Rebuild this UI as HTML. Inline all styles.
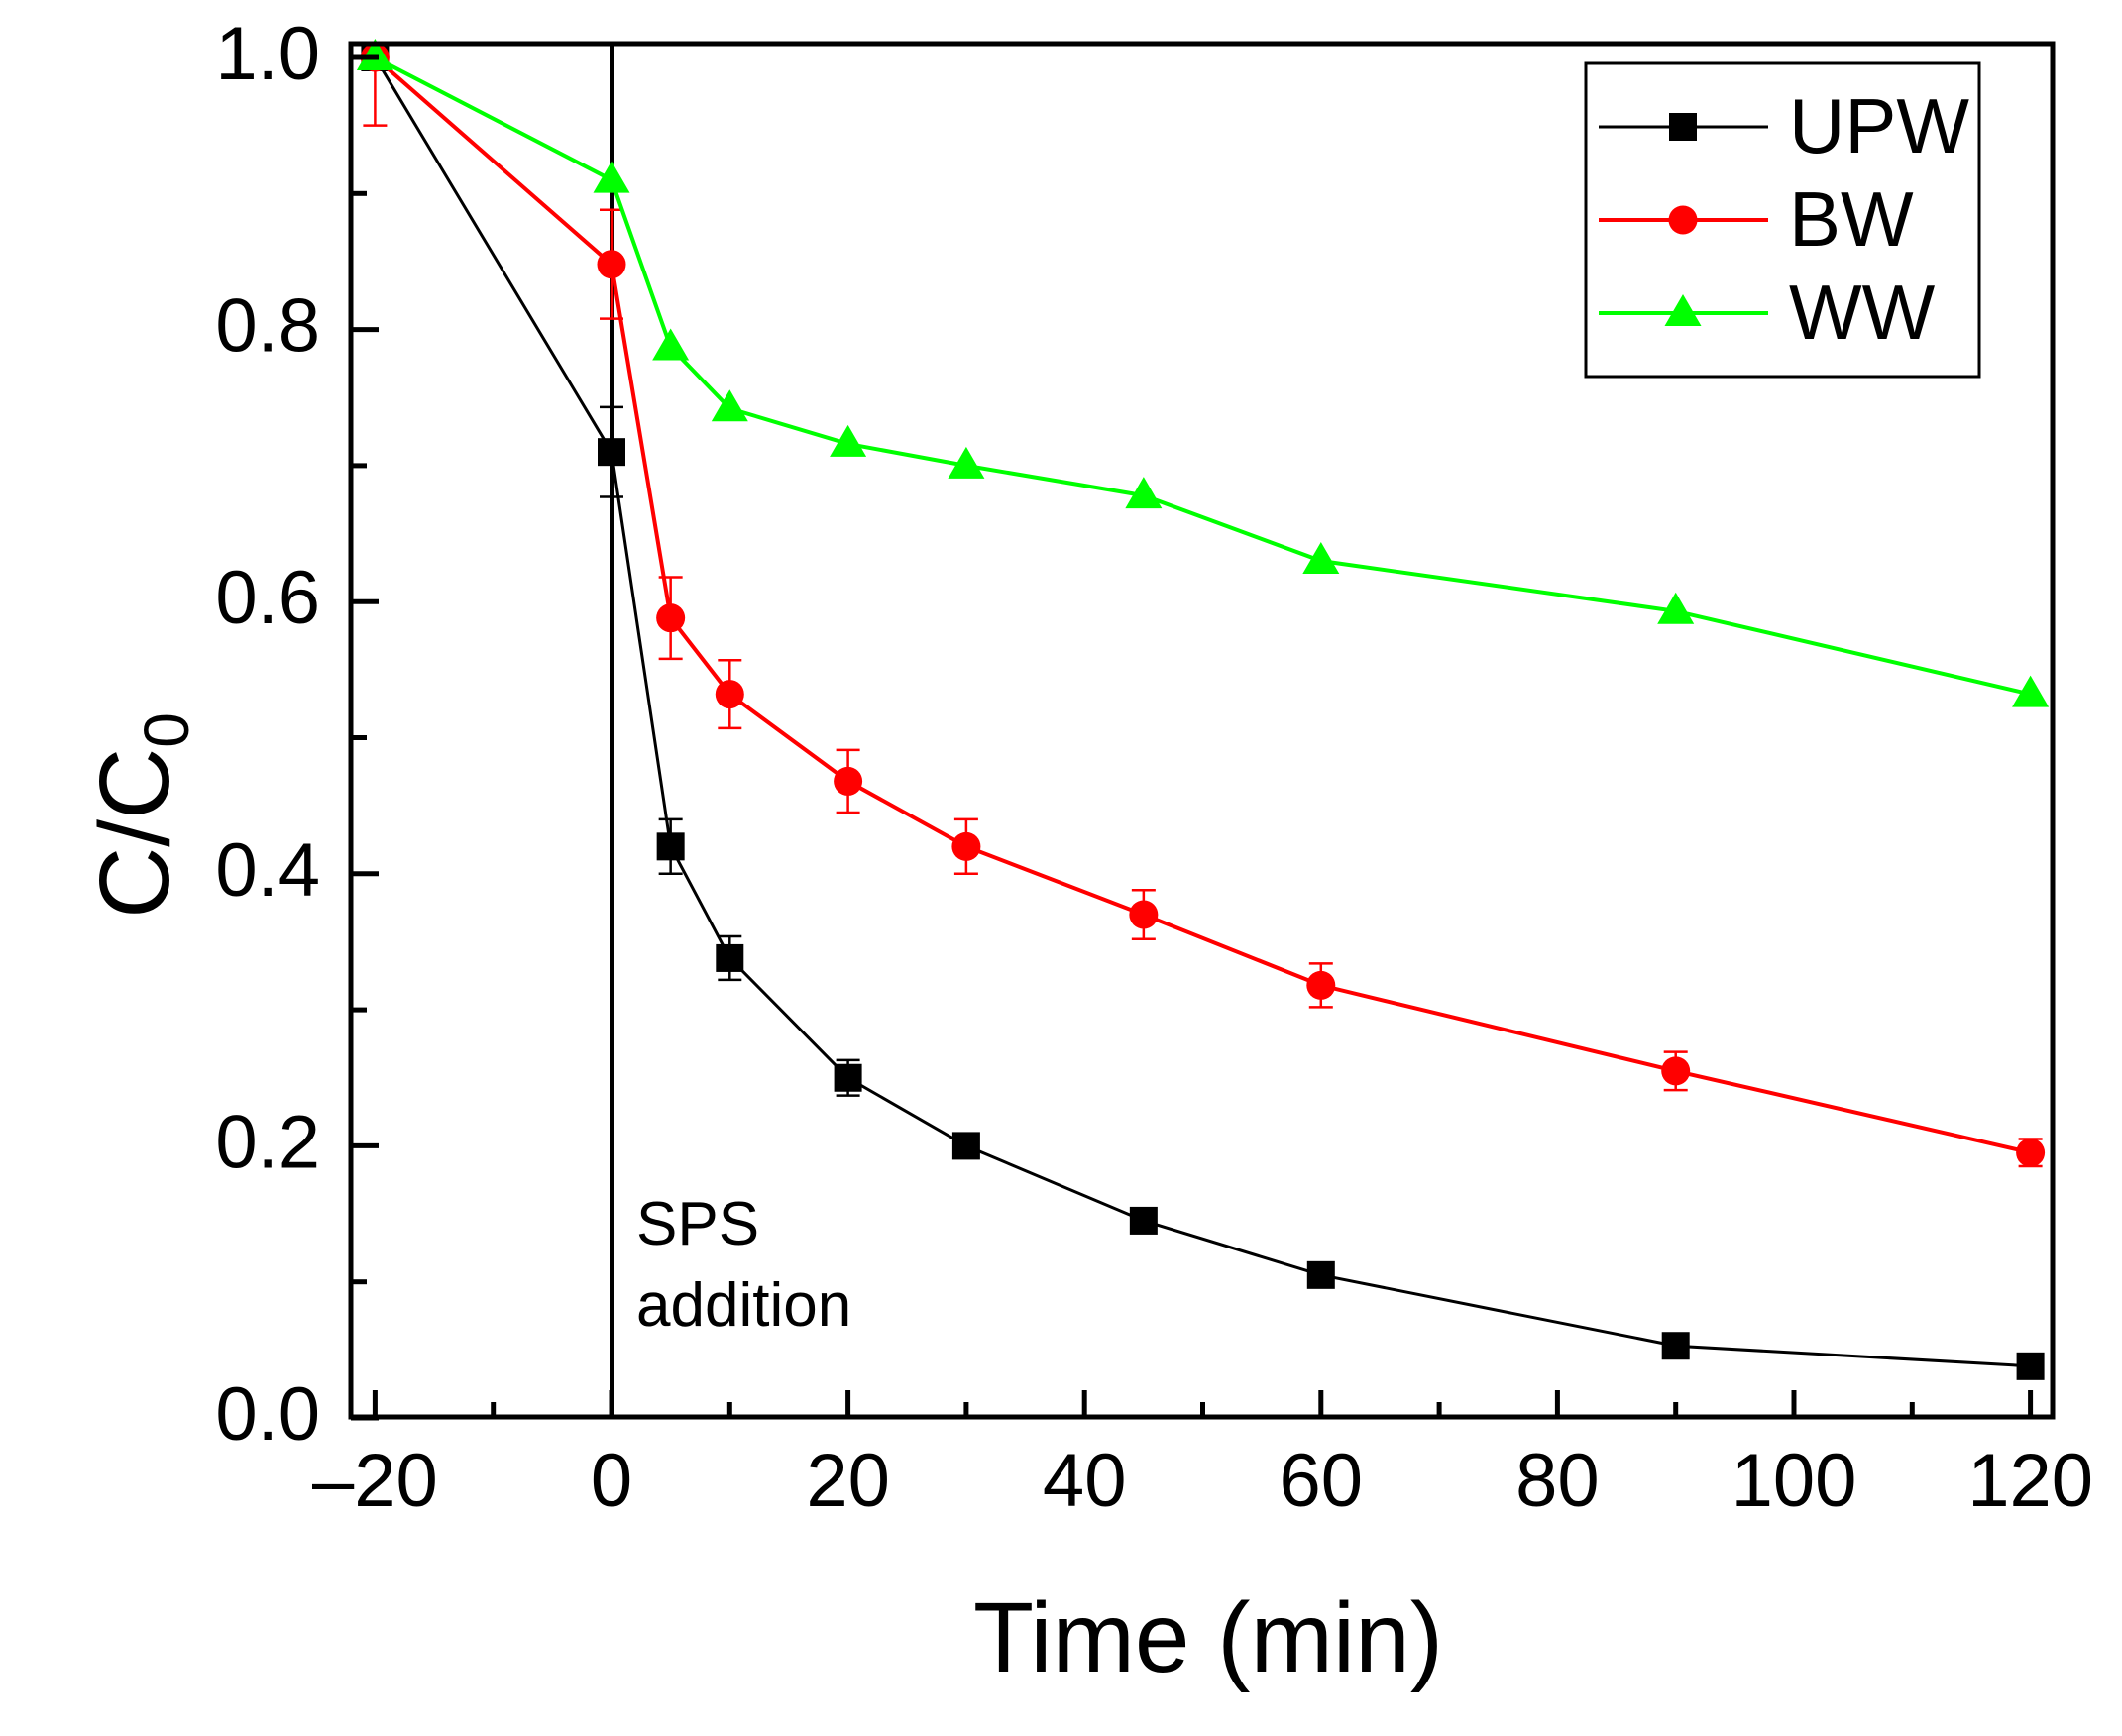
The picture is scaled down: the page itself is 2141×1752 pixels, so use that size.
<!DOCTYPE html>
<html><head><meta charset="utf-8"><style>
html,body{margin:0;padding:0;background:#fff}
svg{display:block}
text{font-family:"Liberation Sans",Arial,sans-serif;fill:#000}
</style></head><body>
<svg width="2141" height="1752" viewBox="0 0 2141 1752" xmlns="http://www.w3.org/2000/svg">
<defs>
<g id="sq"><rect x="-14" y="-14" width="28" height="28" fill="#000"/></g>
<g id="ci"><circle r="14.5" fill="#f00"/></g>
<g id="tr"><polygon points="0,-19 18.5,13 -18.5,13" fill="#0f0"/></g>
</defs>
<line x1="617" y1="44" x2="617" y2="1430" stroke="#000" stroke-width="4"/>
<g id="plot"></g>
<rect x="354" y="44" width="1717" height="1386" fill="none" stroke="#000" stroke-width="5"/>
<g stroke="#000" stroke-width="5" id="ticks"></g>
<g font-size="76" id="labels"></g>
<text x="1219" y="1687" font-size="100" text-anchor="middle">Time (min)</text>
<text transform="translate(170,823) rotate(-90)" font-size="100" text-anchor="middle">C/C<tspan font-size="64" dy="20">0</tspan></text>
<text x="642" y="1256" font-size="62">SPS</text>
<text x="642" y="1338" font-size="62">addition</text>
<rect x="1600" y="64" width="397" height="316" fill="#fff" stroke="#000" stroke-width="3"/>
<line x1="1613" y1="128" x2="1784" y2="128" stroke="#000" stroke-width="3"/>
<use href="#sq" x="1698" y="128"/>
<text x="1805" y="154" font-size="78">UPW</text>
<line x1="1613" y1="222" x2="1784" y2="222" stroke="#f00" stroke-width="4"/>
<use href="#ci" x="1698" y="222"/>
<text x="1805" y="248" font-size="78">BW</text>
<line x1="1613" y1="316" x2="1784" y2="316" stroke="#0f0" stroke-width="4"/>
<use href="#tr" x="1698" y="316"/>
<text x="1805" y="342" font-size="78">WW</text>
</svg>
<script>
const X=t=>617+11.93*t, Y=v=>1431-1373*v;
const T=[-20,0,5,10,20,30,45,60,90,120];
const U=[1,0.71,0.42,0.338,0.25,0.2,0.145,0.105,0.053,0.038];
const B=[1,0.848,0.588,0.532,0.468,0.42,0.37,0.318,0.255,0.195];
const W=[1,0.91,0.787,0.742,0.716,0.7,0.678,0.63,0.593,0.532];
const Ue=[0,0.033,0.02,0.016,0.013,0,0,0,0,0];
const Be=[0.05,0.04,0.03,0.025,0.023,0.02,0.018,0.016,0.014,0.01];
const ns="http://www.w3.org/2000/svg";
const p=document.getElementById('plot');
function el(n,a,parent){const e=document.createElementNS(ns,n);for(const k in a)e.setAttribute(k,a[k]);(parent||p).appendChild(e);return e;}
function series(d,e,col,mk,sw){
 el('polyline',{points:T.map((t,i)=>X(t)+','+Y(d[i])).join(' '),fill:'none',stroke:col,'stroke-width':sw});
 T.forEach((t,i)=>{ if(e[i]>0){const x=X(t);
  const lo=i==0?d[i]:d[i]+e[i];
  el('line',{x1:x,x2:x,y1:Y(lo),y2:Y(d[i]-e[i]),stroke:col,'stroke-width':2.5});
  if(i>0)el('line',{x1:x-12,x2:x+12,y1:Y(d[i]+e[i]),y2:Y(d[i]+e[i]),stroke:col,'stroke-width':2.5});
  el('line',{x1:x-12,x2:x+12,y1:Y(d[i]-e[i]),y2:Y(d[i]-e[i]),stroke:col,'stroke-width':2.5});}});
 T.forEach((t,i)=>{el('use',{href:'#'+mk,x:X(t),y:Y(d[i])});});
}
series(U,Ue,'#000','sq',3);
series(B,Be,'#f00','ci',4);
series(W,[0,0,0,0,0,0,0,0,0,0],'#0f0','tr',4);
const tk=document.getElementById('ticks'),lb=document.getElementById('labels');
for(let t=-20;t<=120;t+=10){const maj=t%20===0,x=X(t);
 el('line',{x1:x,x2:x,y1:1430,y2:1430-(maj?27:15)},tk);
 if(maj){const s=el('text',{x:x,y:1520,'text-anchor':'middle'},lb);s.textContent=(t<0?'\u2013'+(-t):t);}}
for(let k=0;k<=10;k++){const v=k/10,y=Y(v),maj=k%2===0;
 el('line',{x1:354,x2:354+(maj?28:16),y1:y,y2:y},tk);
 if(maj){const s=el('text',{x:323,y:y+22,'text-anchor':'end'},lb);s.textContent=v.toFixed(1);}}
</script>
</body></html>
